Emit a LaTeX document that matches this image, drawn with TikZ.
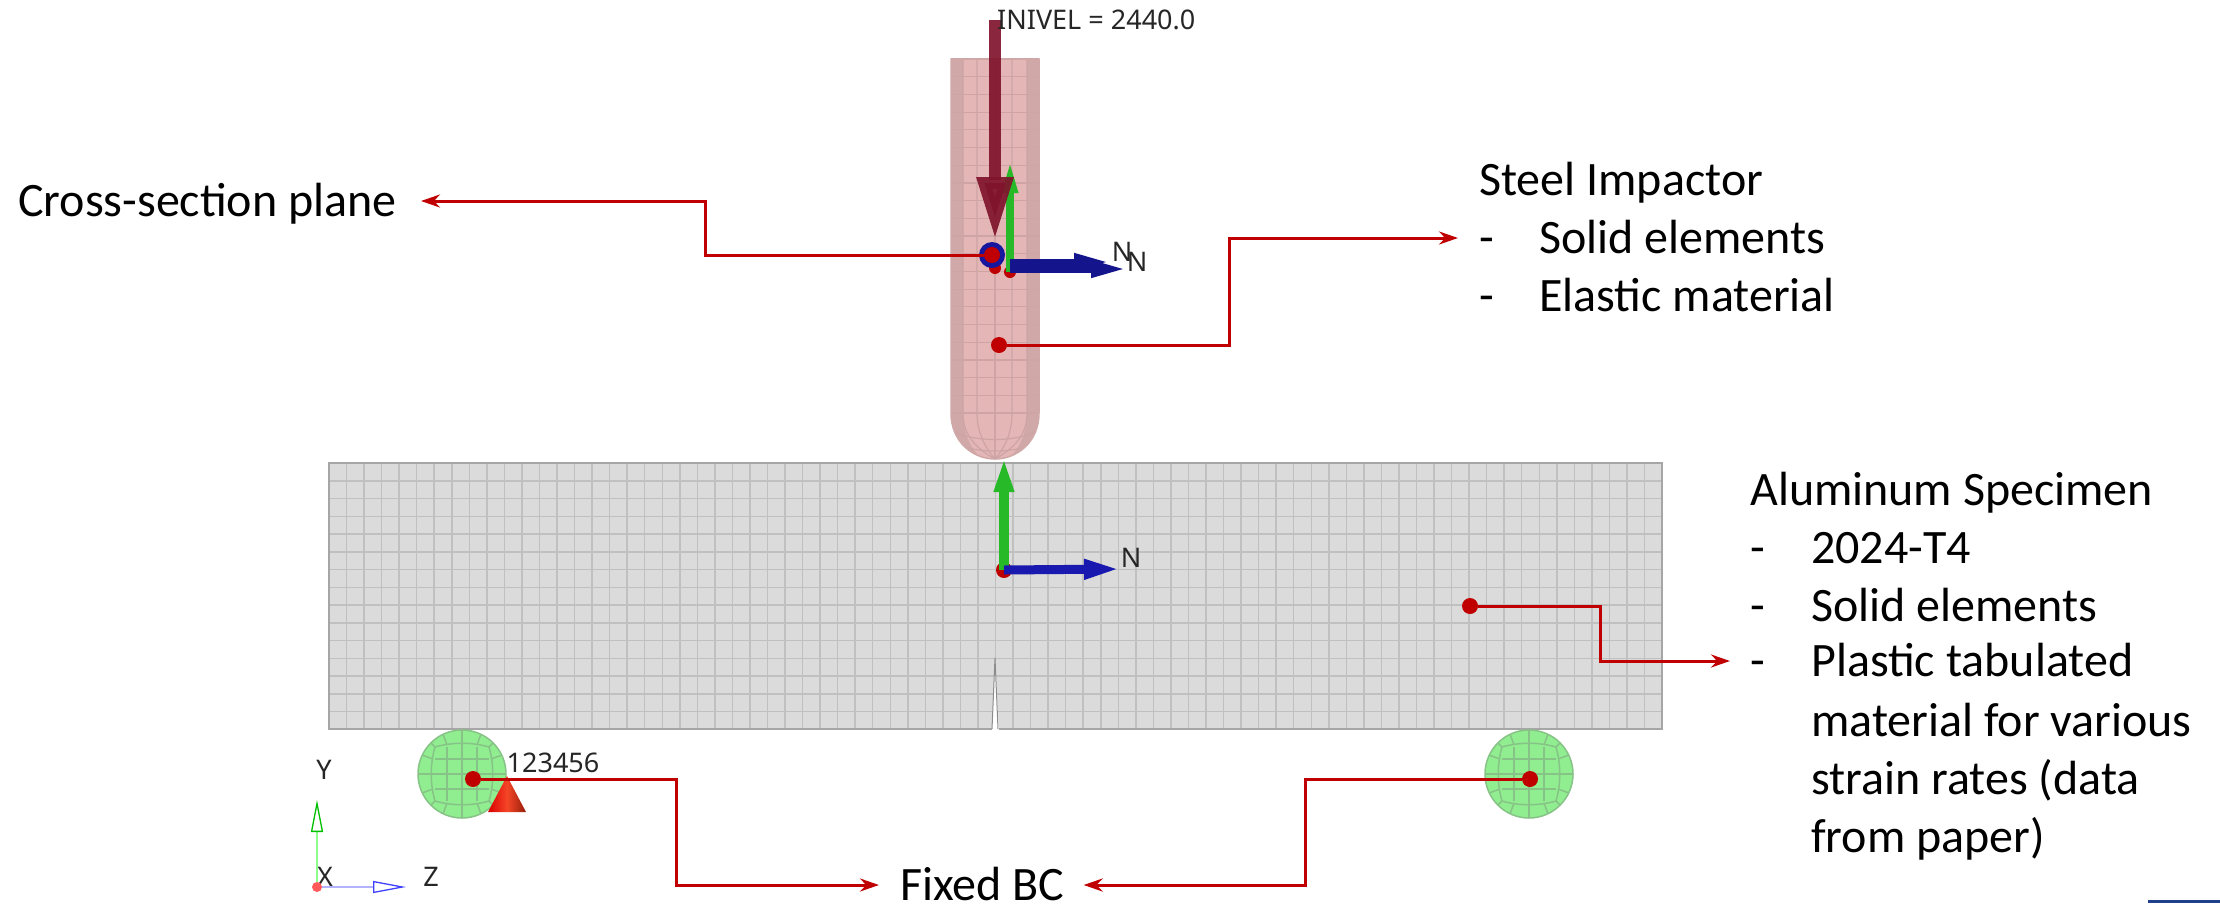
\documentclass[tikz,border=0pt]{standalone}
\usepackage{fontspec}
\setmainfont{Carlito}
\newfontfamily\solverfont{Noto Sans}
\usetikzlibrary{arrows.meta}
\definecolor{calloutred}{RGB}{192,0,0}
\definecolor{meshgrey}{RGB}{219,219,219}
\definecolor{meshline}{RGB}{192,192,192}
\definecolor{steelpink}{RGB}{228,182,182}
\definecolor{steeledge}{RGB}{208,168,168}
\definecolor{steelline}{RGB}{206,164,164}
\definecolor{rollergreen}{RGB}{144,238,144}
\definecolor{rollerline}{RGB}{135,195,135}
\definecolor{velred}{RGB}{128,20,45}
\definecolor{axisgreen}{RGB}{40,185,40}
\definecolor{axisblue}{RGB}{25,25,175}
\definecolor{cornerblue}{RGB}{32,64,140}
\definecolor{conemid}{RGB}{245,70,40}
\definecolor{conedark}{RGB}{150,30,10}

% one roller: disc with its mesh
\newcommand{\rollerdisc}[2]{
    \begin{scope}[shift={(#1,#2)}]
        \fill[rollergreen] (0,0) circle[radius=44pt];
        \draw[thick mesh] (-15,-27) -- (-15,27) (0,-44) -- (0,44) (15,-27) -- (15,27);
        \draw[thick mesh] (-27,-15) -- (27,-15) (-44,0) -- (44,0) (-27,15) -- (27,15);
        \draw[thick mesh] (-27,-27) .. controls (-10,-32) and (10,-32) .. (27,-27)
            .. controls (32,-10) and (32,10) .. (27,27)
            .. controls (10,32) and (-10,32) .. (-27,27)
            .. controls (-32,10) and (-32,-10) .. (-27,-27);
        \draw[thick mesh] (-27,-27) -- (-31,-31) (27,-27) -- (31,-31) (27,27) -- (31,31) (-27,27) -- (-31,31)
            (-15,-29) -- (-19,-40) (15,-29) -- (19,-40) (-15,29) -- (-19,40) (15,29) -- (19,40)
            (-29,-15) -- (-40,-19) (29,-15) -- (40,-19) (-29,15) -- (-40,19) (29,15) -- (40,19);
        \draw[rollerline,line width=1.5pt] (0,0) circle[radius=44pt];
    \end{scope}
}

\begin{document}
\begin{tikzpicture}[
    x=1pt, y=-1pt,
    > = {Stealth[length=19pt,width=13pt]}, % arrow head style
    thick mesh/.style={rollerline, line width=1.5pt},
    callout/.style={calloutred, line width=3pt},
    pin/.style={circle, fill=calloutred, inner sep=0pt, minimum size=16pt},
    lbl/.style={anchor=west, inner sep=0pt, font=\fontsize{48}{56}\selectfont, text height=32pt, text depth=2pt},
    solver/.style={inner sep=0pt, text=black!85, font=\solverfont\fontsize{27}{32}\selectfont},
    axisv/.style={axisgreen, line width=10pt, -{Triangle[length=35pt,width=18pt]}},
    axish/.style={axisblue, line width=9pt, -{Triangle[length=37pt,width=18pt]}},
    blob/.style={circle, fill=red!75!black, inner sep=0pt, minimum size=16pt},
]
\useasboundingbox (0,0) rectangle (2220,903);

% specimen
\fill[meshgrey] (329,463) rectangle (1662,729);
\foreach \i in {1,...,75} {
    \draw[meshline, line width=1.5pt] ({329+17.54*\i},463) -- ({329+17.54*\i},729);
}
\foreach \j in {1,...,14} {
    \draw[meshline, line width=1.5pt] (329,{463+17.75*\j}) -- (1662,{463+17.75*\j});
}
\draw[black!35, line width=1.5pt] (329,463) rectangle (1662,729);
\fill[white] (992,731) -- (995,658) -- (999,731) -- cycle;
\draw[black!45, line width=1pt] (992,729) -- (995,658) -- (998,729);

% impactor
\fill[steelpink] (951,59) -- (1039,59) -- (1039,413) .. controls (1039,442) and (1017,459) .. (995,459)
    .. controls (973,459) and (951,442) .. (951,413) -- cycle;
\fill[steeledge] (951,59) -- (963,59) -- (963,413) .. controls (963,432) and (970,447) .. (978,455)
    .. controls (962,448) and (951,432) .. (951,413) -- cycle;
\fill[steeledge] (1039,59) -- (1027,59) -- (1027,413) .. controls (1027,432) and (1020,447) .. (1012,455)
    .. controls (1028,448) and (1039,432) .. (1039,413) -- cycle;
\foreach \j in {0,...,20} {
    \draw[steelline, line width=1.2pt] (951,{59+17.7*\j}) -- (1039,{59+17.7*\j});
}
\foreach \xa/\xb in {963/970,977/983,995/995,1012/1007,1027/1020} {
    \draw[steelline, line width=1.2pt] (\xa,59) -- (\xa,413) .. controls (\xa,430) and (\xb,445) .. (995,459);
}
\draw[steelline, line width=1.2pt] (955,432) .. controls (975,442) and (1015,442) .. (1035,432);
\draw[steelline, line width=1.2pt] (968,448) .. controls (985,452) and (1005,452) .. (1022,448);
\draw[steeledge, line width=1.5pt] (951,59) -- (1039,59) -- (1039,413) .. controls (1039,442) and (1017,459) .. (995,459)
    .. controls (973,459) and (951,442) .. (951,413) -- cycle;

% rollers
\rollerdisc{462}{774}
\rollerdisc{1529}{774}
\shade[left color=red!85!black, right color=conedark, middle color=conemid] (507,776) -- (526,812) -- (488,812) -- cycle;

% boundary and load symbols
\node[blob, minimum size=12pt] (originImp) at (1010,272) {};
\node[blob, minimum size=12pt] (originImpB) at (995,268) {};
\node[blob] (originSpec) at (1004,570) {};
\coordinate (impUp) at (1010,158);
\coordinate (impRightA) at (1109,262);
\coordinate (impRightB) at (1126,269);
\coordinate (specUp) at (1004,457);
\coordinate (specRight) at (1121,569);
\coordinate (velTop) at (995,20);
\coordinate (velTip) at (995,240);
\draw[axisv] (originSpec.center) -- (specUp);
\draw[axish] (originSpec.center) -- (specRight);
\draw[axisv, line width=8pt, -{Triangle[length=35pt,width=14pt]}] (originImp.center) -- (impUp);
\draw[axish, axisblue!80!black, line width=7pt, -{Triangle[length=35pt,width=16pt]}] (originImp.center |- impRightA) -- (impRightA);
\draw[axish, axisblue!80!black, line width=7pt, -{Triangle[length=35pt,width=16pt]}] (originImp.center |- impRightB) -- (impRightB);
\fill[axisblue!90!black] (992,255) circle[radius=13pt];
\draw[velred, opacity=.92, line width=12pt, -{Triangle[length=63pt,width=34pt]}] (velTop) -- (velTip);

% small labels
\node[solver, anchor=west] (inivel) at (997,20) {INIVEL = 2440.0};
\node[solver] (nImpA) at (1122,252) {N};
\node[solver] (nImpB) at (1137,262) {N};
\node[solver] (nSpec) at (1131,558) {N};
\node[solver] (fixedDof) at (553,763) {123456};
\node[solver] (axisY) at (324,770) {Y};
\node[solver] (axisX) at (325,877) {X};
\node[solver] (axisZ) at (431,877) {Z};

% global triad
\node[blob, fill=red!65, minimum size=10pt] (triad) at (317,887) {};
\coordinate (triadY) at (317,800);
\coordinate (triadZ) at (406,887);
\draw[green!45, line width=2pt, -{Triangle[open,length=32pt,width=12pt,color=green!75!black,line width=1.3pt]}] (triad) -- (triadY);
\draw[blue!30, line width=2pt, -{Triangle[open,length=33pt,width=12pt,color=blue!75,line width=1.3pt]}] (triad) -- (triadZ);

% texts
\node[lbl] (crossLbl) at (18,201) {Cross-section plane};
\node[lbl] (steelHead) at (1479,180) {Steel Impactor};
\node[lbl] (steelDashA) at (1479,238) {-};
\node[lbl] (steelSolid) at (1539,238) {Solid elements};
\node[lbl] (steelDashB) at (1479,296) {-};
\node[lbl] (steelElastic) at (1539,296) {Elastic material};
\node[lbl] (alHead) at (1750,490) {Aluminum Specimen};
\node[lbl] (alDashA) at (1750,548) {-};
\node[lbl] (alGrade) at (1811,548) {2024-T4};
\node[lbl] (alDashB) at (1750,606) {-};
\node[lbl] (alSolid) at (1811,606) {Solid elements};
\node[lbl] (alDashC) at (1750,661) {-};
\node[lbl] (alPlastic) at (1811,661) {Plastic tabulated};
\node[lbl] (alMaterial) at (1811,721) {material for various};
\node[lbl] (alStrain) at (1811,779) {strain rates (data};
\node[lbl] (alPaper) at (1811,837) {from paper)};
\node[lbl] (fixedLbl) at (900,885) {Fixed BC};

% callouts
\node[pin] (pinCross) at (992,255) {};
\node[pin] (pinSteel) at (999,345) {};
\node[pin] (pinAl) at (1470,606) {};
\node[pin] (pinLeft) at (473,779) {};
\node[pin] (pinRight) at (1530,779) {};
\coordinate (bendCross) at (705,201);
\coordinate (bendSteel) at (1229,238);
\coordinate (bendAl) at (1600,661);
\coordinate (bendLeft) at (676,885);
\coordinate (bendRight) at (1305,885);
\draw[callout, ->, shorten >=-3pt] (pinCross) -| (bendCross) -- ++(-281,0);
\draw[callout, ->] (pinSteel) -| (bendSteel) -- (steelDashA.west) [shorten >=21pt];
\draw[callout, ->] (pinAl) -| (bendAl) -- (alDashC.west) [shorten >=20pt];
\draw[callout, ->] (pinLeft) -| (bendLeft) -- (fixedLbl.west) [shorten >=21pt];
\draw[callout, ->] (pinRight) -| (bendRight) -- (fixedLbl.east) [shorten >=19pt];

\fill[cornerblue] (2148,900) rectangle (2220,903);
\end{tikzpicture}
\end{document}
